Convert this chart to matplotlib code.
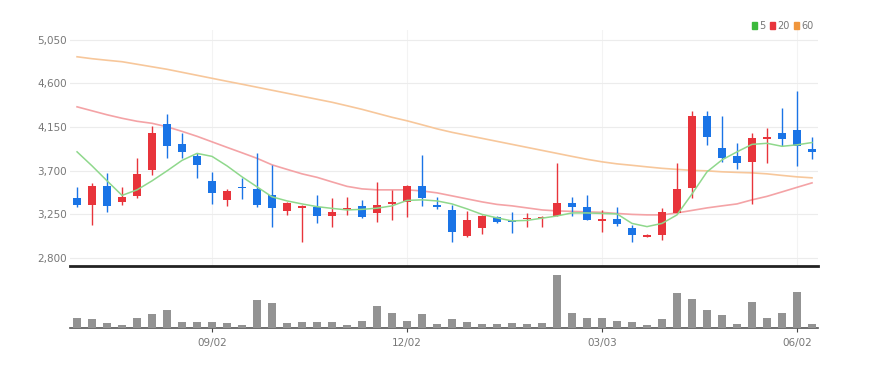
import numpy as np
import pandas as pd
import matplotlib
matplotlib.use("Agg")
import matplotlib.pyplot as plt
from matplotlib.patches import Patch

plt.rcParams['font.family'] = ['Liberation Sans Narrow', 'DejaVu Sans']

# weekly candles
dates = pd.date_range('2018-07-01', periods=50, freq='7D').strftime('%m/%d')
tick_labels = ['09/02', '12/02', '03/03', '06/02']

opens = [3422, 3347, 3543, 3381, 3440, 3708, 4180, 3973, 3856, 3598,
         3399, 3530, 3512, 3450, 3288, 3313, 3323, 3233, 3295, 3337,
         3268, 3354, 3375, 3546, 3347, 3295, 3030, 3107, 3226, 3192,
         3199, 3210, 3233, 3371, 3323, 3182, 3199, 3107, 3020, 3037,
         3268, 3519, 4265, 3932, 3853, 3794, 4028, 4093, 4121, 3922]
highs = [3536, 3577, 3674, 3536, 3835, 4162, 4283, 4087, 3887, 3691,
         3509, 3622, 3887, 3760, 3381, 3347, 3450, 3416, 3426, 3399,
         3587, 3502, 3553, 3863, 3426, 3347, 3288, 3244, 3237, 3272,
         3261, 3233, 3783, 3433, 3450, 3295, 3329, 3141, 3048, 3313,
         3783, 4310, 4317, 4265, 3984, 4087, 4138, 4345, 4516, 4046]
lows = [3323, 3141, 3278, 3347, 3422, 3657, 3835, 3835, 3629, 3357,
        3337, 3406, 3329, 3117, 3244, 2968, 3158, 3123, 3244, 3210,
        3175, 3192, 3220, 3337, 3306, 2968, 3020, 3048, 3158, 3061,
        3117, 3117, 3233, 3233, 3192, 3071, 3130, 2968, 3014, 2986,
        3261, 3416, 3966, 3794, 3715, 3357, 3777, 3949, 3749, 3819]
closes = [3347, 3543, 3340, 3433, 3667, 4087, 3956, 3897, 3760, 3468,
          3495, 3516, 3347, 3313, 3371, 3340, 3233, 3275, 3313, 3226,
          3347, 3375, 3546, 3416, 3329, 3071, 3192, 3233, 3175, 3175,
          3210, 3223, 3371, 3323, 3192, 3199, 3148, 3037, 3034, 3278,
          3509, 4265, 4046, 3835, 3783, 4035, 4052, 4025, 3956, 3894]

ma5 = [3894, 3749, 3595, 3445, 3502, 3595, 3698, 3806, 3878, 3847,
       3749, 3636, 3533, 3430, 3388, 3357, 3329, 3311, 3295, 3301,
       3313, 3337, 3393, 3399, 3388, 3357, 3306, 3249, 3213, 3182,
       3187, 3210, 3233, 3264, 3264, 3259, 3254, 3156, 3123, 3156,
       3244, 3460, 3688, 3811, 3894, 3971, 3982, 3951, 3966, 3990]
ma20 = [4358, 4317, 4276, 4240, 4209, 4188, 4152, 4105, 4054, 3997,
        3940, 3884, 3827, 3760, 3713, 3667, 3631, 3584, 3538, 3512,
        3502, 3502, 3502, 3491, 3471, 3440, 3409, 3378, 3352, 3337,
        3316, 3295, 3285, 3280, 3275, 3270, 3259, 3249, 3244, 3244,
        3264, 3290, 3316, 3337, 3357, 3399, 3435, 3481, 3528, 3574]
ma60 = [4874, 4854, 4838, 4823, 4797, 4771, 4745, 4714, 4683, 4652,
        4621, 4591, 4560, 4529, 4498, 4467, 4436, 4405, 4369, 4332,
        4291, 4250, 4214, 4173, 4131, 4095, 4064, 4033, 4002, 3971,
        3940, 3909, 3878, 3847, 3817, 3791, 3770, 3755, 3739, 3724,
        3713, 3703, 3698, 3688, 3682, 3677, 3667, 3651, 3636, 3626]

volume = [10.7, 9.0, 5.0, 3.3, 10.7, 14.0, 19.0, 6.7, 5.7, 6.7,
          5.0, 3.3, 29.0, 25.7, 5.0, 5.7, 5.7, 6.7, 3.3, 7.3,
          22.3, 15.0, 7.3, 14.0, 4.0, 9.0, 6.7, 4.0, 4.0, 5.0,
          4.0, 5.0, 54.3, 15.0, 10.0, 10.7, 7.3, 6.7, 3.3, 9.0,
          35.7, 30.0, 19.0, 13.3, 4.0, 26.7, 10.7, 15.0, 36.7, 4.0]
volume = [v * 1000 for v in volume]

up_col = '#e8343b'
down_col = '#1a74e6'

fig = plt.figure(figsize=(8.7, 3.7), dpi=100)
ax = fig.add_axes([70/870, 1-266/370, 748/870, 236/370])
axv = fig.add_axes([70/870, 1-328/370, 748/870, 60/370], sharex=ax)

x = np.arange(len(dates))
o = np.array(opens); c = np.array(closes)
colors = [up_col if cc >= oo else down_col for oo, cc in zip(o, c)]

# wicks + bodies
ax.vlines(x, lows, highs, colors=colors, linewidth=1, zorder=3)
body_h = np.abs(c - o)
body_h = np.where(body_h < 12, 12, body_h)
ax.bar(x, body_h, bottom=np.minimum(o, c), width=0.55, color=colors, zorder=4)

ax.plot(x, ma60, color='#f7c79b', lw=1.2, zorder=2)
ax.plot(x, ma20, color='#f4a3a6', lw=1.2, zorder=2)
ax.plot(x, ma5, color='#8fd88c', lw=1.1, zorder=5)

ax.set_ylim(2717, 5150)
ax.set_xlim(-0.47, 49.4)
ax.set_yticks([2800, 3250, 3700, 4150, 4600, 5050])
ax.set_yticklabels(['2,800', '3,250', '3,700', '4,150', '4,600', '5,050'])
tick_pos = [list(dates).index(t) for t in tick_labels]
ax.set_xticks(tick_pos)
ax.grid(True, axis='y', color='#ececec', lw=0.8)
ax.grid(True, axis='x', color='#f3f3f3', lw=0.8)
ax.set_axisbelow(True)
ax.tick_params(axis='y', length=0, labelsize=7.5, labelcolor='#777777', pad=2)
ax.tick_params(axis='x', length=0, labelbottom=False)
for s in ['top', 'right', 'left']:
    ax.spines[s].set_visible(False)
ax.spines['bottom'].set_color('#222222')
ax.spines['bottom'].set_linewidth(2)

axv.bar(x, volume, width=0.5, color='#939393', zorder=3)
axv.set_ylim(0, max(volume) * 1.14)
axv.set_yticks([])
axv.set_xticks(tick_pos)
axv.set_xticklabels(tick_labels)
axv.tick_params(axis='x', length=3, color='#444444', labelsize=7.5,
                labelcolor='#777777', pad=4)
for s in ['top', 'right', 'left']:
    axv.spines[s].set_visible(False)
axv.spines['bottom'].set_color('#555555')
axv.spines['bottom'].set_linewidth(1.2)

handles = [Patch(color='#3cb93c'), Patch(color='#e8343b'), Patch(color='#f0963c')]
fig.legend(handles, ['5', '20', '60'], loc='upper right', bbox_to_anchor=(822/870, 1-12/370),
           ncol=3, frameon=False, fontsize=7, handlelength=0.5, handleheight=0.8,
           handletextpad=0.2, columnspacing=0.5, labelcolor='#777777')

fig.savefig('out.png', dpi=100)
